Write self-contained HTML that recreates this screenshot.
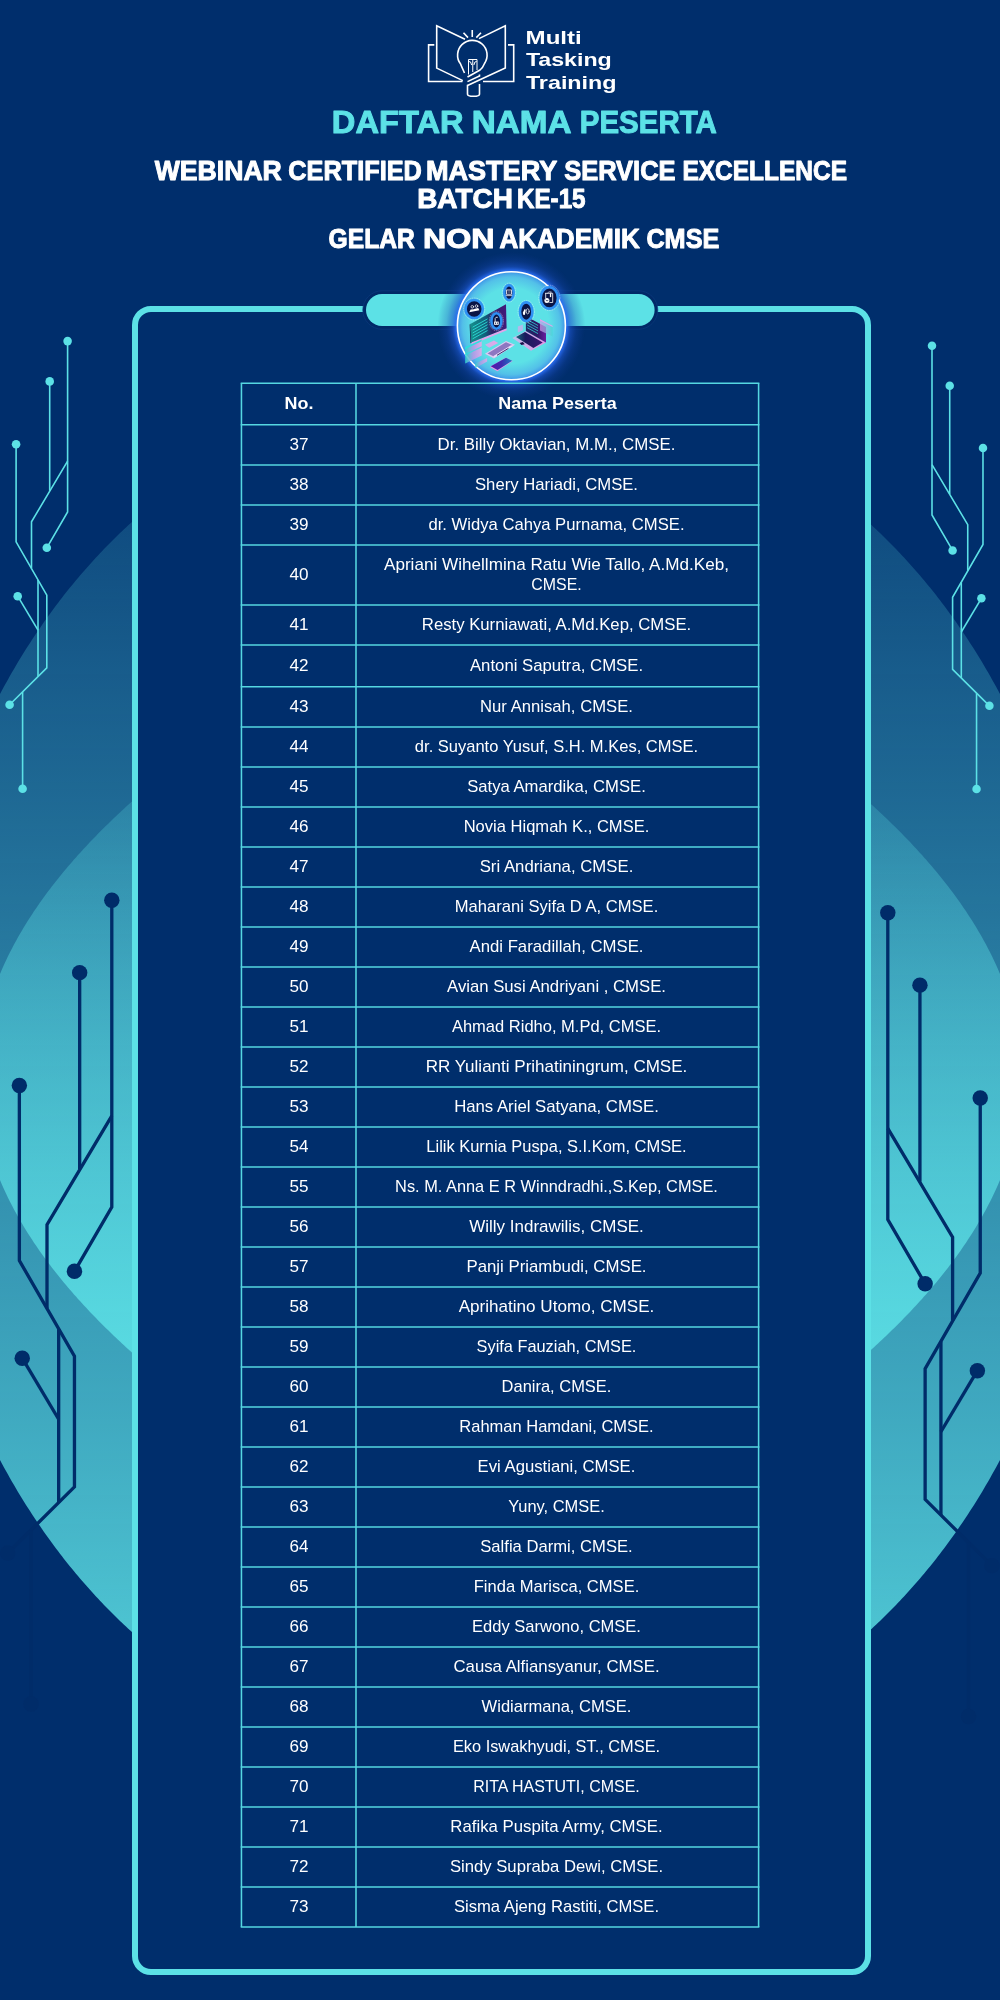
<!DOCTYPE html>
<html><head><meta charset="utf-8">
<style>
html,body{margin:0;padding:0;}
body{width:1000px;height:2000px;background:#002e6c;position:relative;overflow:hidden;font-family:"Liberation Sans",sans-serif;}
svg{position:absolute;left:0;top:0;will-change:transform;}
#tx{position:absolute;left:0;top:0;width:1000px;height:2000px;will-change:transform;}
.frame{position:absolute;left:132px;top:305.8px;width:727px;height:1657px;border:6.2px solid #5ce1e6;border-radius:19px;background:#002e6c;box-sizing:content-box;}
.t{position:absolute;color:#fff;white-space:nowrap;text-align:center;}
.no{left:241.8px;width:114px;font-size:15.7px;transform:scaleX(1.09);}
.nm{left:356.4px;width:401px;font-size:15.7px;transform:scaleX(1.057);}
</style></head><body>

<svg width="1000" height="2000" viewBox="0 0 1000 2000">
<defs>
<linearGradient id="gOut" x1="0" y1="370" x2="0" y2="1784" gradientUnits="userSpaceOnUse">
<stop offset="0" stop-color="#5ce1e6" stop-opacity="0.085"/><stop offset="0.739" stop-color="#5ce1e6" stop-opacity="0.69"/><stop offset="1" stop-color="#5ce1e6" stop-opacity="0.936"/>
</linearGradient>
<linearGradient id="gIn" x1="0" y1="810" x2="0" y2="1340" gradientUnits="userSpaceOnUse">
<stop offset="0" stop-color="#5ce1e6" stop-opacity="0.227"/><stop offset="1" stop-color="#5ce1e6" stop-opacity="0.869"/>
</linearGradient>

<g id="circ" stroke-linejoin="miter" stroke-linecap="butt">
<polyline points="0.00,0.00 0.00,170.90 -20.80,206.70" fill="none"/>
<polyline points="-17.90,40.30 -17.90,149.70" fill="none"/>
<polyline points="0.00,120.10 -36.10,180.70 -36.10,227.10" fill="none"/>
<polyline points="-51.50,103.20 -51.50,200.70 -20.80,254.00 -20.80,326.80 -58.00,363.70" fill="none"/>
<polyline points="-29.60,238.90 -29.60,335.50" fill="none"/>
<polyline points="-49.90,255.10 -29.60,289.10" fill="none"/>
<polyline points="-45.00,447.70 -45.00,350.90" fill="none"/>
<circle cx="0.00" cy="0.00" r="4.3" stroke="none"/>
<circle cx="-17.90" cy="40.30" r="4.3" stroke="none"/>
<circle cx="-51.50" cy="103.20" r="4.3" stroke="none"/>
<circle cx="-20.80" cy="206.70" r="4.3" stroke="none"/>
<circle cx="-49.90" cy="255.10" r="4.3" stroke="none"/>
<circle cx="-58.00" cy="363.70" r="4.3" stroke="none"/>
<circle cx="-45.00" cy="447.70" r="4.3" stroke="none"/>
</g>
</defs>
<polygon points="-2.0,697.8 0.0,694.0 2.0,690.3 4.0,686.6 6.0,682.9 8.0,679.4 10.0,675.8 12.0,672.3 14.0,668.9 16.0,665.5 18.0,662.1 20.0,658.8 22.0,655.6 24.0,652.3 26.0,649.1 28.0,646.0 30.0,642.9 32.0,639.8 34.0,636.8 36.0,633.8 38.0,630.8 40.0,627.9 42.0,625.0 44.0,622.1 46.0,619.3 48.0,616.5 50.0,613.7 52.0,611.0 54.0,608.2 56.0,605.6 58.0,602.9 60.0,600.3 62.0,597.7 64.0,595.1 66.0,592.6 68.0,590.1 70.0,587.6 72.0,585.2 74.0,582.7 76.0,580.3 78.0,577.9 80.0,575.6 82.0,573.2 84.0,570.9 86.0,568.7 88.0,566.4 90.0,564.2 92.0,561.9 94.0,559.7 96.0,557.6 98.0,555.4 100.0,553.3 102.0,551.2 104.0,549.1 106.0,547.0 108.0,545.0 110.0,543.0 112.0,541.0 114.0,539.0 116.0,537.0 118.0,535.1 120.0,533.1 122.0,531.2 124.0,529.3 126.0,527.5 128.0,525.6 130.0,523.8 132.0,522.0 134.0,520.2 136.0,518.4 138.0,516.6 140.0,514.9 142.0,513.2 144.0,511.5 146.0,509.8 148.0,508.1 150.0,506.4 150.0,1647.6 148.0,1645.9 146.0,1644.2 144.0,1642.5 142.0,1640.8 140.0,1639.1 138.0,1637.4 136.0,1635.6 134.0,1633.8 132.0,1632.0 130.0,1630.2 128.0,1628.4 126.0,1626.5 124.0,1624.7 122.0,1622.8 120.0,1620.9 118.0,1618.9 116.0,1617.0 114.0,1615.0 112.0,1613.0 110.0,1611.0 108.0,1609.0 106.0,1607.0 104.0,1604.9 102.0,1602.8 100.0,1600.7 98.0,1598.6 96.0,1596.4 94.0,1594.3 92.0,1592.1 90.0,1589.8 88.0,1587.6 86.0,1585.3 84.0,1583.1 82.0,1580.8 80.0,1578.4 78.0,1576.1 76.0,1573.7 74.0,1571.3 72.0,1568.8 70.0,1566.4 68.0,1563.9 66.0,1561.4 64.0,1558.9 62.0,1556.3 60.0,1553.7 58.0,1551.1 56.0,1548.4 54.0,1545.8 52.0,1543.0 50.0,1540.3 48.0,1537.5 46.0,1534.7 44.0,1531.9 42.0,1529.0 40.0,1526.1 38.0,1523.2 36.0,1520.2 34.0,1517.2 32.0,1514.2 30.0,1511.1 28.0,1508.0 26.0,1504.9 24.0,1501.7 22.0,1498.4 20.0,1495.2 18.0,1491.9 16.0,1488.5 14.0,1485.1 12.0,1481.7 10.0,1478.2 8.0,1474.6 6.0,1471.1 4.0,1467.4 2.0,1463.7 0.0,1460.0 -2.0,1456.2" fill="url(#gOut)"/>
<polygon points="1002.0,697.8 1000.0,694.0 998.0,690.3 996.0,686.6 994.0,682.9 992.0,679.4 990.0,675.8 988.0,672.3 986.0,668.9 984.0,665.5 982.0,662.1 980.0,658.8 978.0,655.6 976.0,652.3 974.0,649.1 972.0,646.0 970.0,642.9 968.0,639.8 966.0,636.8 964.0,633.8 962.0,630.8 960.0,627.9 958.0,625.0 956.0,622.1 954.0,619.3 952.0,616.5 950.0,613.7 948.0,611.0 946.0,608.2 944.0,605.6 942.0,602.9 940.0,600.3 938.0,597.7 936.0,595.1 934.0,592.6 932.0,590.1 930.0,587.6 928.0,585.2 926.0,582.7 924.0,580.3 922.0,577.9 920.0,575.6 918.0,573.2 916.0,570.9 914.0,568.7 912.0,566.4 910.0,564.2 908.0,561.9 906.0,559.7 904.0,557.6 902.0,555.4 900.0,553.3 898.0,551.2 896.0,549.1 894.0,547.0 892.0,545.0 890.0,543.0 888.0,541.0 886.0,539.0 884.0,537.0 882.0,535.1 880.0,533.1 878.0,531.2 876.0,529.3 874.0,527.5 872.0,525.6 870.0,523.8 868.0,522.0 866.0,520.2 864.0,518.4 862.0,516.6 860.0,514.9 858.0,513.2 856.0,511.5 854.0,509.8 852.0,508.1 850.0,506.4 850.0,1647.6 852.0,1645.9 854.0,1644.2 856.0,1642.5 858.0,1640.8 860.0,1639.1 862.0,1637.4 864.0,1635.6 866.0,1633.8 868.0,1632.0 870.0,1630.2 872.0,1628.4 874.0,1626.5 876.0,1624.7 878.0,1622.8 880.0,1620.9 882.0,1618.9 884.0,1617.0 886.0,1615.0 888.0,1613.0 890.0,1611.0 892.0,1609.0 894.0,1607.0 896.0,1604.9 898.0,1602.8 900.0,1600.7 902.0,1598.6 904.0,1596.4 906.0,1594.3 908.0,1592.1 910.0,1589.8 912.0,1587.6 914.0,1585.3 916.0,1583.1 918.0,1580.8 920.0,1578.4 922.0,1576.1 924.0,1573.7 926.0,1571.3 928.0,1568.8 930.0,1566.4 932.0,1563.9 934.0,1561.4 936.0,1558.9 938.0,1556.3 940.0,1553.7 942.0,1551.1 944.0,1548.4 946.0,1545.8 948.0,1543.0 950.0,1540.3 952.0,1537.5 954.0,1534.7 956.0,1531.9 958.0,1529.0 960.0,1526.1 962.0,1523.2 964.0,1520.2 966.0,1517.2 968.0,1514.2 970.0,1511.1 972.0,1508.0 974.0,1504.9 976.0,1501.7 978.0,1498.4 980.0,1495.2 982.0,1491.9 984.0,1488.5 986.0,1485.1 988.0,1481.7 990.0,1478.2 992.0,1474.6 994.0,1471.1 996.0,1467.4 998.0,1463.7 1000.0,1460.0 1002.0,1456.2" fill="url(#gOut)"/>
<polygon points="-2.0,978.9 0.0,974.0 2.0,969.3 4.0,964.8 6.0,960.5 8.0,956.3 10.0,952.3 12.0,948.4 14.0,944.6 16.0,940.9 18.0,937.3 20.0,933.8 22.0,930.4 24.0,927.0 26.0,923.8 28.0,920.6 30.0,917.4 32.0,914.4 34.0,911.3 36.0,908.4 38.0,905.5 40.0,902.6 42.0,899.8 44.0,897.0 46.0,894.3 48.0,891.6 50.0,889.0 52.0,886.3 54.0,883.8 56.0,881.2 58.0,878.7 60.0,876.2 62.0,873.8 64.0,871.3 66.0,869.0 68.0,866.6 70.0,864.3 72.0,861.9 74.0,859.6 76.0,857.4 78.0,855.1 80.0,852.9 82.0,850.7 84.0,848.5 86.0,846.4 88.0,844.2 90.0,842.1 92.0,840.0 94.0,838.0 96.0,835.9 98.0,833.8 100.0,831.8 102.0,829.8 104.0,827.8 106.0,825.8 108.0,823.9 110.0,821.9 112.0,820.0 114.0,818.1 116.0,816.2 118.0,814.3 120.0,812.4 122.0,810.5 124.0,808.7 126.0,806.8 128.0,805.0 130.0,803.2 132.0,801.4 134.0,799.6 136.0,797.8 138.0,796.1 140.0,794.3 142.0,792.6 144.0,790.8 146.0,789.1 148.0,787.4 150.0,785.7 150.0,1368.3 148.0,1366.6 146.0,1364.9 144.0,1363.2 142.0,1361.4 140.0,1359.7 138.0,1357.9 136.0,1356.2 134.0,1354.4 132.0,1352.6 130.0,1350.8 128.0,1349.0 126.0,1347.2 124.0,1345.3 122.0,1343.5 120.0,1341.6 118.0,1339.7 116.0,1337.8 114.0,1335.9 112.0,1334.0 110.0,1332.1 108.0,1330.1 106.0,1328.2 104.0,1326.2 102.0,1324.2 100.0,1322.2 98.0,1320.2 96.0,1318.1 94.0,1316.0 92.0,1314.0 90.0,1311.9 88.0,1309.8 86.0,1307.6 84.0,1305.5 82.0,1303.3 80.0,1301.1 78.0,1298.9 76.0,1296.6 74.0,1294.4 72.0,1292.1 70.0,1289.7 68.0,1287.4 66.0,1285.0 64.0,1282.7 62.0,1280.2 60.0,1277.8 58.0,1275.3 56.0,1272.8 54.0,1270.2 52.0,1267.7 50.0,1265.0 48.0,1262.4 46.0,1259.7 44.0,1257.0 42.0,1254.2 40.0,1251.4 38.0,1248.5 36.0,1245.6 34.0,1242.7 32.0,1239.6 30.0,1236.6 28.0,1233.4 26.0,1230.2 24.0,1227.0 22.0,1223.6 20.0,1220.2 18.0,1216.7 16.0,1213.1 14.0,1209.4 12.0,1205.6 10.0,1201.7 8.0,1197.7 6.0,1193.5 4.0,1189.2 2.0,1184.7 0.0,1180.0 -2.0,1175.1" fill="url(#gIn)"/>
<polygon points="1002.0,978.9 1000.0,974.0 998.0,969.3 996.0,964.8 994.0,960.5 992.0,956.3 990.0,952.3 988.0,948.4 986.0,944.6 984.0,940.9 982.0,937.3 980.0,933.8 978.0,930.4 976.0,927.0 974.0,923.8 972.0,920.6 970.0,917.4 968.0,914.4 966.0,911.3 964.0,908.4 962.0,905.5 960.0,902.6 958.0,899.8 956.0,897.0 954.0,894.3 952.0,891.6 950.0,889.0 948.0,886.3 946.0,883.8 944.0,881.2 942.0,878.7 940.0,876.2 938.0,873.8 936.0,871.3 934.0,869.0 932.0,866.6 930.0,864.3 928.0,861.9 926.0,859.6 924.0,857.4 922.0,855.1 920.0,852.9 918.0,850.7 916.0,848.5 914.0,846.4 912.0,844.2 910.0,842.1 908.0,840.0 906.0,838.0 904.0,835.9 902.0,833.8 900.0,831.8 898.0,829.8 896.0,827.8 894.0,825.8 892.0,823.9 890.0,821.9 888.0,820.0 886.0,818.1 884.0,816.2 882.0,814.3 880.0,812.4 878.0,810.5 876.0,808.7 874.0,806.8 872.0,805.0 870.0,803.2 868.0,801.4 866.0,799.6 864.0,797.8 862.0,796.1 860.0,794.3 858.0,792.6 856.0,790.8 854.0,789.1 852.0,787.4 850.0,785.7 850.0,1368.3 852.0,1366.6 854.0,1364.9 856.0,1363.2 858.0,1361.4 860.0,1359.7 862.0,1357.9 864.0,1356.2 866.0,1354.4 868.0,1352.6 870.0,1350.8 872.0,1349.0 874.0,1347.2 876.0,1345.3 878.0,1343.5 880.0,1341.6 882.0,1339.7 884.0,1337.8 886.0,1335.9 888.0,1334.0 890.0,1332.1 892.0,1330.1 894.0,1328.2 896.0,1326.2 898.0,1324.2 900.0,1322.2 902.0,1320.2 904.0,1318.1 906.0,1316.0 908.0,1314.0 910.0,1311.9 912.0,1309.8 914.0,1307.6 916.0,1305.5 918.0,1303.3 920.0,1301.1 922.0,1298.9 924.0,1296.6 926.0,1294.4 928.0,1292.1 930.0,1289.7 932.0,1287.4 934.0,1285.0 936.0,1282.7 938.0,1280.2 940.0,1277.8 942.0,1275.3 944.0,1272.8 946.0,1270.2 948.0,1267.7 950.0,1265.0 952.0,1262.4 954.0,1259.7 956.0,1257.0 958.0,1254.2 960.0,1251.4 962.0,1248.5 964.0,1245.6 966.0,1242.7 968.0,1239.6 970.0,1236.6 972.0,1233.4 974.0,1230.2 976.0,1227.0 978.0,1223.6 980.0,1220.2 982.0,1216.7 984.0,1213.1 986.0,1209.4 988.0,1205.6 990.0,1201.7 992.0,1197.7 994.0,1193.5 996.0,1189.2 998.0,1184.7 1000.0,1180.0 1002.0,1175.1" fill="url(#gIn)"/>
<use href="#circ" transform="translate(67.60 341.10) scale(1.0000 1.0000)" stroke="#5ce1e6" fill="#5ce1e6" stroke-width="1.60"/>
<use href="#circ" transform="translate(932.00 345.80) scale(-0.9900 0.9900)" stroke="#5ce1e6" fill="#5ce1e6" stroke-width="1.60"/>
<use href="#circ" transform="translate(111.80 900.30) scale(1.7950 1.7950)" stroke="#002c69" fill="#002c69" stroke-width="1.85"/>
<use href="#circ" transform="translate(887.80 912.80) scale(-1.7950 1.7950)" stroke="#002c69" fill="#002c69" stroke-width="1.85"/>
</svg>
<div class="frame"></div>
<svg width="1000" height="2000" viewBox="0 0 1000 2000">
<defs>
<radialGradient id="glow" cx="511.4" cy="325.8" r="74" gradientUnits="userSpaceOnUse">
<stop offset="0.72" stop-color="#2f78f5" stop-opacity="1"/>
<stop offset="0.755" stop-color="#2668ea" stop-opacity="0.9"/>
<stop offset="0.80" stop-color="#1d55cc" stop-opacity="0.6"/>
<stop offset="0.88" stop-color="#1848b4" stop-opacity="0.28"/>
<stop offset="1" stop-color="#123c9c" stop-opacity="0"/>
</radialGradient>
<radialGradient id="inglow" cx="511.4" cy="325.8" r="54" gradientUnits="userSpaceOnUse">
<stop offset="0.70" stop-color="#4aa4ea" stop-opacity="0"/>
<stop offset="0.90" stop-color="#4aa0ea" stop-opacity="0.5"/>
<stop offset="1" stop-color="#3a8ee8" stop-opacity="0.95"/>
</radialGradient>
<linearGradient id="scr" x1="0" y1="0" x2="1" y2="0"><stop offset="0" stop-color="#15908c"/><stop offset="0.42" stop-color="#115f7c"/><stop offset="0.6" stop-color="#2a2368"/><stop offset="1" stop-color="#45187c"/></linearGradient>
<linearGradient id="scr2" x1="0" y1="0" x2="1" y2="0"><stop offset="0" stop-color="#1d2a66"/><stop offset="0.55" stop-color="#2c1763"/><stop offset="1" stop-color="#6a1fa0"/></linearGradient>
<linearGradient id="kbd" x1="0" y1="0" x2="1" y2="0"><stop offset="0" stop-color="#136a78"/><stop offset="0.35" stop-color="#1a1a5c"/><stop offset="1" stop-color="#3a1272"/></linearGradient>
<linearGradient id="pur" x1="0" y1="0" x2="1" y2="0"><stop offset="0" stop-color="#5a12a8"/><stop offset="0.5" stop-color="#3d2cb0"/><stop offset="1" stop-color="#1f78c4"/></linearGradient>
<linearGradient id="pnk" x1="0" y1="0" x2="1" y2="0"><stop offset="0" stop-color="#c7b4ea"/><stop offset="1" stop-color="#e4a4e8"/></linearGradient>
<linearGradient id="pnk2" x1="0" y1="0" x2="1" y2="0"><stop offset="0" stop-color="#bfc4ee"/><stop offset="1" stop-color="#e48ee2"/></linearGradient>
<linearGradient id="pnl" x1="0" y1="0" x2="1" y2="0"><stop offset="0" stop-color="#2fd6cc"/><stop offset="0.5" stop-color="#b79ae6"/><stop offset="1" stop-color="#eaa6ea"/></linearGradient>
<linearGradient id="pnl2" x1="0" y1="0" x2="1" y2="0"><stop offset="0" stop-color="#d79aea"/><stop offset="1" stop-color="#46d6d6"/></linearGradient>
<clipPath id="cc"><circle cx="511.4" cy="325.8" r="53.5"/></clipPath>
</defs>
<g fill="none" stroke="#fff" stroke-width="1.6" stroke-linejoin="miter" stroke-linecap="butt">
<polyline points="434.3,44.9 428.6,44.9 428.6,81.5 462.5,81.5"/>
<polyline points="508,44.9 513.7,44.9 513.7,81.5 483,81.5"/>
<polyline points="465,39.3 436.7,25.8 436.7,68.1 462.8,80.6"/>
<polyline points="479,38.6 505.3,25.8 505.3,68.1 467.5,85.6"/>
<path d="M464.5,73 L460.6,64.1 A14.75,14.75 0 1 1 484.5,63.5 Q483,67.5 480,70 L467.5,77"/>
<path d="M467.5,84.8 L467.5,94.3 Q467.5,96.3 473.5,96.3 Q479.5,96.3 479.5,94.3 L479.5,84"/>
<polyline points="467.5,81.6 479.5,76 479.5,74.6"/>
<line x1="472.25" y1="30" x2="472.25" y2="37"/>
<line x1="463.5" y1="32.7" x2="468" y2="37.6"/>
<line x1="481" y1="32.7" x2="476.3" y2="37.6"/>
<g stroke-width="1.0">
<polyline points="468.5,74.5 468.5,59.5 477,59.5 477,70"/>
<line x1="472.75" y1="59.5" x2="472.75" y2="72"/>
<polyline points="468.8,61.5 470.6,62 471.6,65"/>
<polyline points="476.7,61.5 474.9,62 473.9,65"/>
</g>
</g>
<g fill="#fff" font-family="Liberation Sans, sans-serif" font-weight="bold" font-size="19">
<text x="525.6" y="43.65" textLength="56.2" lengthAdjust="spacingAndGlyphs">Multi</text>
<text x="525.9" y="66" textLength="85.9" lengthAdjust="spacingAndGlyphs">Tasking</text>
<text x="525.9" y="88.75" textLength="90.7" lengthAdjust="spacingAndGlyphs">Training</text>
</g>
<g font-family="Liberation Sans, sans-serif" font-weight="bold" stroke-width="1.0" stroke-linejoin="round">
<text x="331.80" y="132.80" font-size="31.6" fill="#5ce1e6" stroke="#5ce1e6" textLength="131.80" lengthAdjust="spacingAndGlyphs">DAFTAR</text>
<text x="471.80" y="132.80" font-size="31.6" fill="#5ce1e6" stroke="#5ce1e6" textLength="99.80" lengthAdjust="spacingAndGlyphs">NAMA</text>
<text x="579.80" y="132.80" font-size="31.6" fill="#5ce1e6" stroke="#5ce1e6" textLength="137.00" lengthAdjust="spacingAndGlyphs">PESERTA</text>
<text x="154.65" y="180.00" font-size="27.2" fill="#fff" stroke="#fff" textLength="127.20" lengthAdjust="spacingAndGlyphs">WEBINAR</text>
<text x="288.35" y="180.00" font-size="27.2" fill="#fff" stroke="#fff" textLength="133.50" lengthAdjust="spacingAndGlyphs">CERTIFIED</text>
<text x="425.90" y="180.00" font-size="27.2" fill="#fff" stroke="#fff" textLength="131.40" lengthAdjust="spacingAndGlyphs">MASTERY</text>
<text x="564.15" y="180.00" font-size="27.2" fill="#fff" stroke="#fff" textLength="111.45" lengthAdjust="spacingAndGlyphs">SERVICE</text>
<text x="682.40" y="180.00" font-size="27.2" fill="#fff" stroke="#fff" textLength="164.70" lengthAdjust="spacingAndGlyphs">EXCELLENCE</text>
<text x="417.15" y="208.00" font-size="27.2" fill="#fff" stroke="#fff" textLength="95.70" lengthAdjust="spacingAndGlyphs">BATCH</text>
<text x="516.90" y="208.00" font-size="27.2" fill="#fff" stroke="#fff" textLength="68.70" lengthAdjust="spacingAndGlyphs">KE-15</text>
<text x="328.60" y="248.20" font-size="27.2" fill="#fff" stroke="#fff" textLength="86.25" lengthAdjust="spacingAndGlyphs">GELAR</text>
<text x="423.10" y="248.20" font-size="27.2" fill="#fff" stroke="#fff" textLength="71.50" lengthAdjust="spacingAndGlyphs">NON</text>
<text x="499.40" y="248.20" font-size="27.2" fill="#fff" stroke="#fff" textLength="140.50" lengthAdjust="spacingAndGlyphs">AKADEMIK</text>
<text x="646.40" y="248.20" font-size="27.2" fill="#fff" stroke="#fff" textLength="72.95" lengthAdjust="spacingAndGlyphs">CMSE</text>
</g>
<rect x="362.8" y="290.8" width="295" height="38.4" rx="19.2" fill="#002a67" stroke="#0c3b7e" stroke-width="0.7"/>
<rect x="366" y="294" width="288.6" height="32" rx="16" fill="#5ce1e6"/>
<circle cx="511.4" cy="325.8" r="74" fill="url(#glow)"/>
<circle cx="511.4" cy="325.8" r="54" fill="#5ce1e6"/>
<circle cx="511.4" cy="325.8" r="54" fill="url(#inglow)"/>
<circle cx="511.4" cy="325.8" r="54" fill="none" stroke="#fff" stroke-width="1.6"/>
<g>
<polygon points="485.0,344.8 494.0,340.6 498.2,343.0 489.2,347.8" fill="url(#pnk)" />
<polygon points="471.2,342.6 506.6,328.2 506.8,330.2 471.6,344.8" fill="#e3a2ea" />
<polygon points="469.6,324.4 470.6,323.8 471.5,342.8 470.4,343.2" fill="#1b2a55" />
<polygon points="470.3,324.0 506.0,304.2 506.6,328.2 471.2,342.6" fill="url(#scr)" />
<line x1="472.6" y1="327.2" x2="487.5" y2="318.9" stroke="#2fe3dc" stroke-width="1.0" opacity="0.85"/>
<line x1="472.6" y1="330.1" x2="487.5" y2="321.8" stroke="#2fe3dc" stroke-width="1.0" opacity="0.85"/>
<line x1="472.6" y1="333.0" x2="487.5" y2="324.7" stroke="#2fe3dc" stroke-width="1.0" opacity="0.85"/>
<line x1="472.6" y1="335.9" x2="487.5" y2="327.6" stroke="#2fe3dc" stroke-width="1.0" opacity="0.85"/>
<line x1="472.6" y1="338.8" x2="487.5" y2="330.5" stroke="#2fe3dc" stroke-width="1.0" opacity="0.85"/>
<polygon points="465.2,347.2 481.7,339.4 481.7,355.6 465.2,363.4" fill="url(#pnl)" opacity="0.88"/>
<polygon points="465.2,347.2 481.7,339.4 481.7,341.2 465.2,349.0" fill="#22e6e0" opacity="0.9"/>
<polygon points="465.2,354.0 481.7,346.2 481.7,347.4 465.2,355.2" fill="#22e6e0" opacity="0.7"/>
<polygon points="475.1,363.4 487.1,358.0 487.1,361.6 475.1,368.2" fill="url(#pnl)" opacity="0.8"/>
<polygon points="485.0,353.8 506.0,340.9 515.0,344.8 494.0,358.6" fill="#dcc9f2" />
<polygon points="487.5,353.6 506.0,342.3 512.3,345.0 494.0,356.6" fill="#7a63b4" opacity="0.8"/>
<polygon points="493.0,356.2 511.0,345.2 512.8,346.0 494.6,357.2" fill="#e9dcf8" />
<line x1="497" y1="355.3" x2="508.5" y2="348.3" stroke="#2a1a60" stroke-width="0.9"/>
<polygon points="489.9,366.9 505.8,357.4 512.6,361.0 497.4,371.2" fill="#e49ae6" />
<polygon points="490.8,366.3 506.0,357.7 512.2,360.8 497.6,370.0" fill="url(#pur)" />
<polygon points="512.4,337.9 525.9,331.0 546.0,342.4 531.0,350.8" fill="url(#pnk2)" />
<polygon points="516.0,337.0 525.0,331.9 542.7,342.4 533.4,348.1" fill="url(#kbd)" />
<polygon points="519.6,343.0 522.9,342.1 524.7,344.2 521.4,345.1" fill="#1a0f4a" />
<polygon points="525.9,316.2 546.0,327.0 546.0,342.4 525.9,331.0" fill="url(#scr2)" />
<line x1="527.2" y1="319.6" x2="538" y2="325.5" stroke="#2fd8d8" stroke-width="0.9" opacity="0.85"/>
<line x1="527.2" y1="322.3" x2="538" y2="328.2" stroke="#2fd8d8" stroke-width="0.9" opacity="0.85"/>
<line x1="527.2" y1="325.0" x2="538" y2="330.9" stroke="#2fd8d8" stroke-width="0.9" opacity="0.85"/>
<line x1="527.2" y1="327.7" x2="538" y2="333.6" stroke="#2fd8d8" stroke-width="0.9" opacity="0.85"/>
<polygon points="540.0,319.2 552.6,325.8 552.6,336.6 540.0,330.6" fill="url(#pnl2)" opacity="0.72"/>
<polygon points="540.0,319.2 552.6,325.8 552.6,327.0 540.0,320.4" fill="#e7a4ee" opacity="0.9"/>
<polygon points="517.8,326.4 522.9,324.6 522.9,330.6 517.8,332.4" fill="#d9a6ec" opacity="0.7"/>
</g>
<ellipse cx="474.2" cy="309.0" rx="8.6" ry="9.0" fill="#0b1545" stroke="#2f90f4" stroke-width="2.6"/><ellipse cx="474.2" cy="309.0" rx="10.6" ry="11.0" fill="none" stroke="#e6f3ff" stroke-width="0.5" stroke-dasharray="1.6 0.8" opacity="0.85"/><g transform="translate(474.2 309.0)" fill="#fff" stroke="#fff" stroke-width="0.7" stroke-linecap="round"><circle cx="-1.9" cy="-2.2" r="1.3" fill="none"/><circle cx="2.3" cy="-2.9" r="1.3" fill="none"/><path d="M-5,3.2 L-3.6,0.6 L-0.4,0.3 L0.6,-0.2 L4,-1 L5.2,1.2 Z" stroke="none"/></g>
<ellipse cx="509.0" cy="292.6" rx="4.7" ry="7.5" fill="#0b1545" stroke="#2f90f4" stroke-width="2.6"/><ellipse cx="509.0" cy="292.6" rx="6.7" ry="9.5" fill="none" stroke="#e6f3ff" stroke-width="0.5" stroke-dasharray="1.6 0.8" opacity="0.85"/><g transform="translate(509.0 292.6)" fill="#fff" stroke="#fff" stroke-width="0.7" stroke-linecap="round"><rect x="-2.4" y="-2.6" width="4.8" height="4.2" fill="none" stroke-width="0.8"/><line x1="-2.8" y1="3" x2="2.8" y2="3"/><line x1="-1.2" y1="-0.6" x2="1.4" y2="-0.6" stroke-width="0.5"/></g>
<ellipse cx="549.3" cy="297.9" rx="8.6" ry="10.7" fill="#0b1545" stroke="#2f90f4" stroke-width="2.6"/><ellipse cx="549.3" cy="297.9" rx="10.6" ry="12.7" fill="none" stroke="#e6f3ff" stroke-width="0.5" stroke-dasharray="1.6 0.8" opacity="0.85"/><g transform="translate(549.3 297.9)" fill="#fff" stroke="#fff" stroke-width="0.7" stroke-linecap="round"><path d="M-3.6,-4.6 L3.4,-4.6 L3.4,4.6 L0.5,4.6 M-3.6,-4.6 L-3.6,0" fill="none" stroke-width="0.8"/><path d="M-1.8,-4.6 L-0.6,-6 L2,-6 L1.2,-4.6" fill="none" stroke-width="0.6"/><rect x="0.6" y="-4.4" width="1.3" height="3.6" stroke="none"/><circle cx="-2.4" cy="2.6" r="2.5" stroke="none"/><path d="M-3.4,2.2 L-2.3,3.1 L-1.2,2.4" fill="none" stroke="#0b1545" stroke-width="0.7"/></g>
<ellipse cx="526.2" cy="311.7" rx="6.2" ry="9.3" fill="#0b1545" stroke="#2f90f4" stroke-width="2.6"/><ellipse cx="526.2" cy="311.7" rx="8.2" ry="11.3" fill="none" stroke="#e6f3ff" stroke-width="0.5" stroke-dasharray="1.6 0.8" opacity="0.85"/><g transform="translate(526.2 311.7)" fill="#fff" stroke="#fff" stroke-width="0.7" stroke-linecap="round"><path d="M-3.4,1 L-1.6,-2.6 L-0.4,-2 L-1.4,3.4 L-3,3 Z" stroke="none"/><ellipse cx="1.5" cy="-0.4" rx="1.5" ry="2.6" fill="none" stroke-width="0.7"/></g>
<ellipse cx="496.4" cy="321.0" rx="5.0" ry="7.7" fill="#0b1545" stroke="#2f90f4" stroke-width="2.6"/><ellipse cx="496.4" cy="321.0" rx="7.0" ry="9.7" fill="none" stroke="#e6f3ff" stroke-width="0.5" stroke-dasharray="1.6 0.8" opacity="0.85"/><g transform="translate(496.4 321.0)" fill="#fff" stroke="#fff" stroke-width="0.7" stroke-linecap="round"><rect x="-2.3" y="0.6" width="4.6" height="3.2" stroke="none"/><path d="M-1.2,0.6 L-1.2,-2.6 Q-0.8,-4.2 1,-3.8" fill="none" stroke-width="0.8"/><rect x="-1.2" y="1.5" width="0.8" height="1.4" fill="#0b1545" stroke="none"/><rect x="0.5" y="1.5" width="0.8" height="1.4" fill="#0b1545" stroke="none"/></g>
<g stroke="#55d7e1" stroke-width="1.55" fill="none">
<line x1="240.70" y1="383.25" x2="759.35" y2="383.25"/>
<line x1="240.70" y1="424.80" x2="759.35" y2="424.80"/>
<line x1="240.70" y1="465.00" x2="759.35" y2="465.00"/>
<line x1="240.70" y1="505.00" x2="759.35" y2="505.00"/>
<line x1="240.70" y1="545.00" x2="759.35" y2="545.00"/>
<line x1="240.70" y1="605.00" x2="759.35" y2="605.00"/>
<line x1="240.70" y1="645.00" x2="759.35" y2="645.00"/>
<line x1="240.70" y1="686.70" x2="759.35" y2="686.70"/>
<line x1="240.70" y1="727.00" x2="759.35" y2="727.00"/>
<line x1="240.70" y1="767.00" x2="759.35" y2="767.00"/>
<line x1="240.70" y1="807.00" x2="759.35" y2="807.00"/>
<line x1="240.70" y1="847.00" x2="759.35" y2="847.00"/>
<line x1="240.70" y1="887.00" x2="759.35" y2="887.00"/>
<line x1="240.70" y1="927.00" x2="759.35" y2="927.00"/>
<line x1="240.70" y1="967.00" x2="759.35" y2="967.00"/>
<line x1="240.70" y1="1007.00" x2="759.35" y2="1007.00"/>
<line x1="240.70" y1="1047.00" x2="759.35" y2="1047.00"/>
<line x1="240.70" y1="1087.00" x2="759.35" y2="1087.00"/>
<line x1="240.70" y1="1127.00" x2="759.35" y2="1127.00"/>
<line x1="240.70" y1="1167.00" x2="759.35" y2="1167.00"/>
<line x1="240.70" y1="1207.00" x2="759.35" y2="1207.00"/>
<line x1="240.70" y1="1247.00" x2="759.35" y2="1247.00"/>
<line x1="240.70" y1="1287.00" x2="759.35" y2="1287.00"/>
<line x1="240.70" y1="1327.00" x2="759.35" y2="1327.00"/>
<line x1="240.70" y1="1367.00" x2="759.35" y2="1367.00"/>
<line x1="240.70" y1="1407.00" x2="759.35" y2="1407.00"/>
<line x1="240.70" y1="1447.00" x2="759.35" y2="1447.00"/>
<line x1="240.70" y1="1487.00" x2="759.35" y2="1487.00"/>
<line x1="240.70" y1="1527.00" x2="759.35" y2="1527.00"/>
<line x1="240.70" y1="1567.00" x2="759.35" y2="1567.00"/>
<line x1="240.70" y1="1607.00" x2="759.35" y2="1607.00"/>
<line x1="240.70" y1="1647.00" x2="759.35" y2="1647.00"/>
<line x1="240.70" y1="1687.00" x2="759.35" y2="1687.00"/>
<line x1="240.70" y1="1727.00" x2="759.35" y2="1727.00"/>
<line x1="240.70" y1="1767.00" x2="759.35" y2="1767.00"/>
<line x1="240.70" y1="1807.00" x2="759.35" y2="1807.00"/>
<line x1="240.70" y1="1847.00" x2="759.35" y2="1847.00"/>
<line x1="240.70" y1="1887.00" x2="759.35" y2="1887.00"/>
<line x1="240.70" y1="1927.00" x2="759.35" y2="1927.00"/>
<line x1="241.45" y1="383.25" x2="241.45" y2="1927.00"/>
<line x1="356.00" y1="383.25" x2="356.00" y2="1927.00"/>
<line x1="758.60" y1="383.25" x2="758.60" y2="1927.00"/>
</g>
</svg>
<div id="tx">
<div class="t" style="left:242px;width:114px;top:393.84px;line-height:20px;font-weight:bold;font-size:16.6px;transform:scaleX(1.08);">No.</div>
<div class="t" style="left:357px;width:401px;top:393.84px;line-height:20px;font-weight:bold;font-size:16.6px;transform:scaleX(1.08);">Nama Peserta</div>
<div class="t no" style="top:434.56px;line-height:20px;">37</div>
<div class="t nm" style="top:434.56px;line-height:20px;transform:scaleX(1.0739);">Dr. Billy Oktavian, M.M., CMSE.</div>
<div class="t no" style="top:474.66px;line-height:20px;">38</div>
<div class="t nm" style="top:474.66px;line-height:20px;transform:scaleX(1.0623);">Shery Hariadi, CMSE.</div>
<div class="t no" style="top:514.66px;line-height:20px;">39</div>
<div class="t nm" style="top:514.66px;line-height:20px;transform:scaleX(1.0603);">dr. Widya Cahya Purnama, CMSE.</div>
<div class="t no" style="top:564.66px;line-height:20px;">40</div>
<div class="t nm" style="top:554.66px;line-height:20px;transform:scaleX(1.0911);">Apriani Wihellmina Ratu Wie Tallo, A.Md.Keb,</div>
<div class="t nm" style="top:574.66px;line-height:20px;transform:scaleX(1.0129);">CMSE.</div>
<div class="t no" style="top:614.66px;line-height:20px;">41</div>
<div class="t nm" style="top:614.66px;line-height:20px;transform:scaleX(1.0654);">Resty Kurniawati, A.Md.Kep, CMSE.</div>
<div class="t no" style="top:655.51px;line-height:20px;">42</div>
<div class="t nm" style="top:655.51px;line-height:20px;transform:scaleX(1.0676);">Antoni Saputra, CMSE.</div>
<div class="t no" style="top:696.51px;line-height:20px;">43</div>
<div class="t nm" style="top:696.51px;line-height:20px;transform:scaleX(1.0627);">Nur Annisah, CMSE.</div>
<div class="t no" style="top:736.66px;line-height:20px;">44</div>
<div class="t nm" style="top:736.66px;line-height:20px;transform:scaleX(1.0525);">dr. Suyanto Yusuf, S.H. M.Kes, CMSE.</div>
<div class="t no" style="top:776.66px;line-height:20px;">45</div>
<div class="t nm" style="top:776.66px;line-height:20px;transform:scaleX(1.0612);">Satya Amardika, CMSE.</div>
<div class="t no" style="top:816.66px;line-height:20px;">46</div>
<div class="t nm" style="top:816.66px;line-height:20px;transform:scaleX(1.0541);">Novia Hiqmah K., CMSE.</div>
<div class="t no" style="top:856.66px;line-height:20px;">47</div>
<div class="t nm" style="top:856.66px;line-height:20px;transform:scaleX(1.0676);">Sri Andriana, CMSE.</div>
<div class="t no" style="top:896.66px;line-height:20px;">48</div>
<div class="t nm" style="top:896.66px;line-height:20px;transform:scaleX(1.0565);">Maharani Syifa D A, CMSE.</div>
<div class="t no" style="top:936.66px;line-height:20px;">49</div>
<div class="t nm" style="top:936.66px;line-height:20px;transform:scaleX(1.0676);">Andi Faradillah, CMSE.</div>
<div class="t no" style="top:976.66px;line-height:20px;">50</div>
<div class="t nm" style="top:976.66px;line-height:20px;transform:scaleX(1.0654);">Avian Susi Andriyani , CMSE.</div>
<div class="t no" style="top:1016.66px;line-height:20px;">51</div>
<div class="t nm" style="top:1016.66px;line-height:20px;transform:scaleX(1.0519);">Ahmad Ridho, M.Pd, CMSE.</div>
<div class="t no" style="top:1056.66px;line-height:20px;">52</div>
<div class="t nm" style="top:1056.66px;line-height:20px;transform:scaleX(1.0843);">RR Yulianti Prihatiningrum, CMSE.</div>
<div class="t no" style="top:1096.66px;line-height:20px;">53</div>
<div class="t nm" style="top:1096.66px;line-height:20px;transform:scaleX(1.0671);">Hans Ariel Satyana, CMSE.</div>
<div class="t no" style="top:1136.66px;line-height:20px;">54</div>
<div class="t nm" style="top:1136.66px;line-height:20px;transform:scaleX(1.0476);">Lilik Kurnia Puspa, S.I.Kom, CMSE.</div>
<div class="t no" style="top:1176.66px;line-height:20px;">55</div>
<div class="t nm" style="top:1176.66px;line-height:20px;transform:scaleX(1.0430);">Ns. M. Anna E R Winndradhi.,S.Kep, CMSE.</div>
<div class="t no" style="top:1216.66px;line-height:20px;">56</div>
<div class="t nm" style="top:1216.66px;line-height:20px;transform:scaleX(1.0828);">Willy Indrawilis, CMSE.</div>
<div class="t no" style="top:1256.66px;line-height:20px;">57</div>
<div class="t nm" style="top:1256.66px;line-height:20px;transform:scaleX(1.0697);">Panji Priambudi, CMSE.</div>
<div class="t no" style="top:1296.66px;line-height:20px;">58</div>
<div class="t nm" style="top:1296.66px;line-height:20px;transform:scaleX(1.0890);">Aprihatino Utomo, CMSE.</div>
<div class="t no" style="top:1336.66px;line-height:20px;">59</div>
<div class="t nm" style="top:1336.66px;line-height:20px;transform:scaleX(1.0410);">Syifa Fauziah, CMSE.</div>
<div class="t no" style="top:1376.66px;line-height:20px;">60</div>
<div class="t nm" style="top:1376.66px;line-height:20px;transform:scaleX(1.0491);">Danira, CMSE.</div>
<div class="t no" style="top:1416.66px;line-height:20px;">61</div>
<div class="t nm" style="top:1416.66px;line-height:20px;transform:scaleX(1.0510);">Rahman Hamdani, CMSE.</div>
<div class="t no" style="top:1456.66px;line-height:20px;">62</div>
<div class="t nm" style="top:1456.66px;line-height:20px;transform:scaleX(1.0646);">Evi Agustiani, CMSE.</div>
<div class="t no" style="top:1496.66px;line-height:20px;">63</div>
<div class="t nm" style="top:1496.66px;line-height:20px;transform:scaleX(1.0492);">Yuny, CMSE.</div>
<div class="t no" style="top:1536.66px;line-height:20px;">64</div>
<div class="t nm" style="top:1536.66px;line-height:20px;transform:scaleX(1.0598);">Salfia Darmi, CMSE.</div>
<div class="t no" style="top:1576.66px;line-height:20px;">65</div>
<div class="t nm" style="top:1576.66px;line-height:20px;transform:scaleX(1.0551);">Finda Marisca, CMSE.</div>
<div class="t no" style="top:1616.66px;line-height:20px;">66</div>
<div class="t nm" style="top:1616.66px;line-height:20px;transform:scaleX(1.0526);">Eddy Sarwono, CMSE.</div>
<div class="t no" style="top:1656.66px;line-height:20px;">67</div>
<div class="t nm" style="top:1656.66px;line-height:20px;transform:scaleX(1.0696);">Causa Alfiansyanur, CMSE.</div>
<div class="t no" style="top:1696.66px;line-height:20px;">68</div>
<div class="t nm" style="top:1696.66px;line-height:20px;transform:scaleX(1.0541);">Widiarmana, CMSE.</div>
<div class="t no" style="top:1736.66px;line-height:20px;">69</div>
<div class="t nm" style="top:1736.66px;line-height:20px;transform:scaleX(1.0422);">Eko Iswakhyudi, ST., CMSE.</div>
<div class="t no" style="top:1776.66px;line-height:20px;">70</div>
<div class="t nm" style="top:1776.66px;line-height:20px;transform:scaleX(1.0176);">RITA HASTUTI, CMSE.</div>
<div class="t no" style="top:1816.66px;line-height:20px;">71</div>
<div class="t nm" style="top:1816.66px;line-height:20px;transform:scaleX(1.0698);">Rafika Puspita Army, CMSE.</div>
<div class="t no" style="top:1856.66px;line-height:20px;">72</div>
<div class="t nm" style="top:1856.66px;line-height:20px;transform:scaleX(1.0631);">Sindy Supraba Dewi, CMSE.</div>
<div class="t no" style="top:1896.66px;line-height:20px;">73</div>
<div class="t nm" style="top:1896.66px;line-height:20px;transform:scaleX(1.0602);">Sisma Ajeng Rastiti, CMSE.</div>
</div>
</body></html>
